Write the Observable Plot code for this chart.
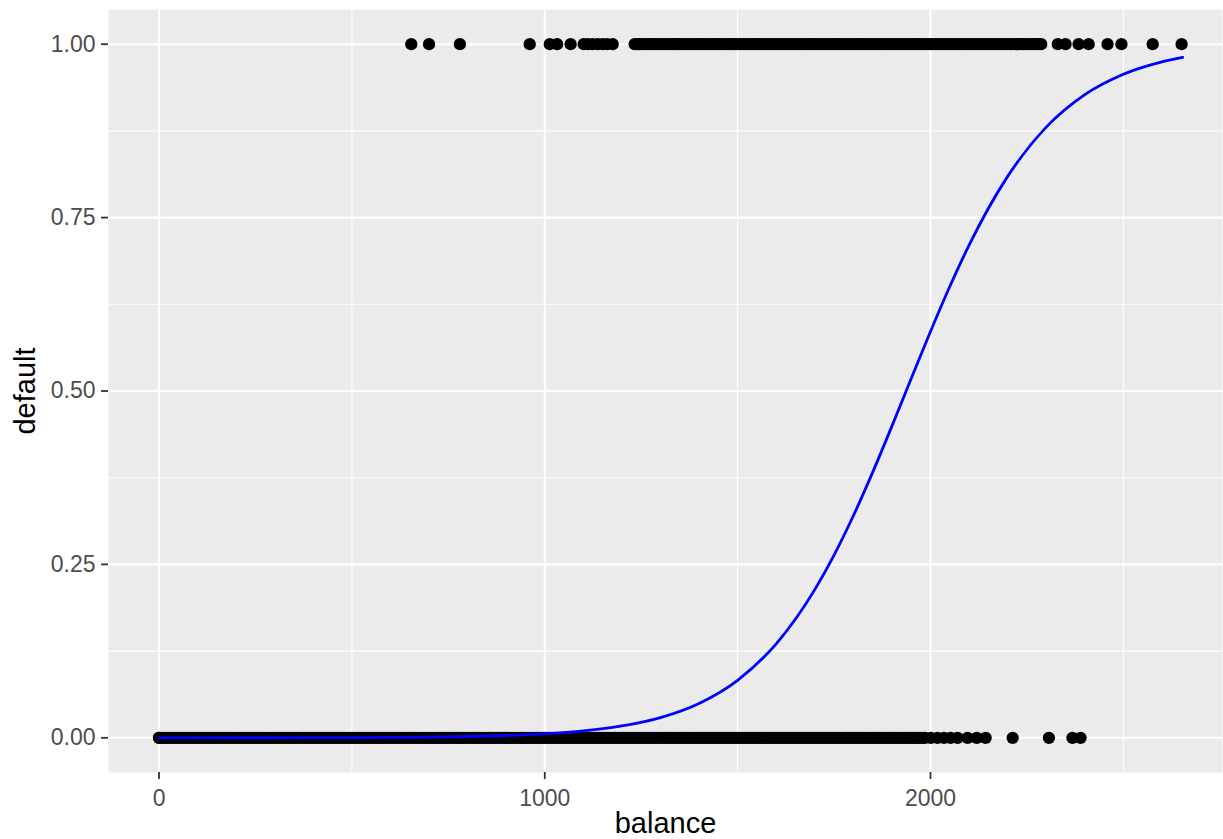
<!DOCTYPE html>
<html><head><meta charset="utf-8">
<script src="https://cdn.jsdelivr.net/npm/d3@7"></script>
<script src="https://cdn.jsdelivr.net/npm/@observablehq/plot@0.6"></script>
<style>body{margin:0;background:#fff;} svg{display:block}</style>
</head><body><div id="chart"></div>
<script>
// balance values of customers who did not default (default = 0)
const nonDefaultBalance = [0, 0, 6, 13, 20, 27, 34, 41, 48, 55, 62, 69, 76, 84, 90, 97, 104, 111, 118, 126, 133, 140, 146, 153, 160, 168, 175, 182, 188, 195, 202, 210, 217, 224, 230, 237, 244, 252, 259, 266, 272, 279, 286, 294, 301, 308, 314, 321, 328, 336, 343, 350, 356, 363, 370, 378, 385, 392, 398, 405, 412, 420, 427, 434, 440, 447, 454, 462, 469, 476, 482, 489, 496, 504, 511, 518, 524, 531, 538, 546, 553, 560, 566, 573, 580, 588, 595, 602, 608, 615, 622, 630, 637, 644, 650, 657, 664, 672, 679, 686, 692, 699, 706, 714, 721, 728, 734, 741, 748, 756, 763, 770, 776, 783, 790, 798, 805, 812, 818, 825, 832, 840, 847, 854, 860, 867, 874, 882, 889, 896, 902, 909, 916, 924, 931, 938, 944, 951, 958, 966, 973, 980, 986, 993, 1000, 1008, 1015, 1022, 1028, 1035, 1042, 1050, 1057, 1064, 1070, 1077, 1084, 1092, 1099, 1106, 1112, 1119, 1126, 1134, 1141, 1148, 1154, 1161, 1168, 1176, 1183, 1190, 1196, 1203, 1210, 1218, 1225, 1232, 1238, 1245, 1252, 1260, 1267, 1274, 1280, 1287, 1294, 1302, 1309, 1316, 1322, 1329, 1336, 1344, 1351, 1358, 1364, 1371, 1378, 1386, 1393, 1400, 1406, 1413, 1420, 1428, 1435, 1442, 1448, 1455, 1462, 1470, 1477, 1484, 1490, 1497, 1504, 1512, 1519, 1526, 1532, 1539, 1546, 1554, 1561, 1568, 1574, 1581, 1588, 1596, 1603, 1610, 1616, 1623, 1630, 1638, 1645, 1652, 1658, 1665, 1672, 1680, 1687, 1694, 1700, 1707, 1714, 1722, 1729, 1736, 1742, 1749, 1756, 1764, 1771, 1778, 1784, 1791, 1798, 1806, 1813, 1820, 1826, 1833, 1840, 1848, 1855, 1862, 1868, 1875, 1882, 1890, 1897, 1904, 1910, 1917, 1924, 1932, 1939, 1946, 1952, 1959, 1966, 1972, 1979, 1986, 2001, 2018, 2035, 2052, 2070, 2096, 2120, 2143, 2213, 2307, 2368, 2389];
// balance values of customers who defaulted (default = 1)
const defaultBalance = [654, 700, 780, 961, 1013, 1032, 1067, 1101, 1112, 1124, 1137, 1150, 1162, 1176, 1233, 1240, 1246, 1254, 1261, 1268, 1274, 1281, 1288, 1295, 1302, 1309, 1315, 1323, 1330, 1337, 1343, 1350, 1357, 1364, 1371, 1378, 1384, 1392, 1399, 1406, 1412, 1419, 1426, 1433, 1440, 1447, 1453, 1461, 1468, 1475, 1481, 1488, 1495, 1502, 1509, 1516, 1522, 1530, 1537, 1544, 1550, 1557, 1564, 1571, 1578, 1585, 1591, 1599, 1606, 1613, 1619, 1626, 1633, 1640, 1647, 1654, 1660, 1668, 1675, 1682, 1688, 1695, 1702, 1709, 1716, 1723, 1729, 1737, 1744, 1751, 1757, 1764, 1771, 1778, 1785, 1792, 1798, 1806, 1813, 1820, 1826, 1833, 1840, 1847, 1854, 1861, 1867, 1875, 1882, 1889, 1895, 1902, 1909, 1916, 1923, 1930, 1936, 1944, 1951, 1958, 1964, 1971, 1978, 1985, 1992, 1999, 2005, 2013, 2020, 2027, 2033, 2040, 2047, 2054, 2061, 2068, 2074, 2082, 2089, 2096, 2102, 2109, 2116, 2123, 2130, 2137, 2143, 2151, 2158, 2165, 2171, 2178, 2185, 2192, 2199, 2206, 2212, 2220, 2227, 2234, 2240, 2247, 2254, 2261, 2268, 2274, 2280, 2287, 2330, 2350, 2384, 2410, 2459, 2495, 2576, 2651];
// fitted curve
const curveBalance = [0, 100, 200, 300, 400, 500, 600, 700, 800, 900, 1000, 1100, 1200, 1300, 1400, 1500, 1600, 1700, 1750, 1800, 1850, 1900, 1950, 2000, 2050, 2100, 2200, 2300, 2400, 2500, 2600, 2654];
const curveProb = [0.00002, 0.00004, 0.00007, 0.00012, 0.00021, 0.00037, 0.00064, 0.00111, 0.00192, 0.00333, 0.00576, 0.00992, 0.01708, 0.02924, 0.04962, 0.08296, 0.13552, 0.21365, 0.2634, 0.32013, 0.3827, 0.44935, 0.5179, 0.5858, 0.6506, 0.7102, 0.8094, 0.8804, 0.9273, 0.9567, 0.9746, 0.9810];
const xTicks = [0, 1000, 2000];
const xMinor = [500, 1500, 2500];
const yTicks = [0, 0.25, 0.5, 0.75, 1];
const yMinor = [0.125, 0.375, 0.625, 0.875];
const xTitle = "balance";
const yTitle = "default";

const points = [
  ...nonDefaultBalance.map(b => ({balance: b, default: 0})),
  ...defaultBalance.map(b => ({balance: b, default: 1}))
];
const curve = curveBalance.map((b, i) => ({balance: b, p: curveProb[i]}));

const chart = Plot.plot({
  width: 1223, height: 839,
  marginLeft: 108, marginRight: 1, marginTop: 9, marginBottom: 67,
  style: {fontFamily: "'Liberation Sans', Arial, sans-serif", background: "white", overflow: "visible"},
  x: {domain: [-131, 2757]},
  y: {domain: [-0.05, 1.05]},
  marks: [
    Plot.frame({fill: "#EBEBEB", stroke: null}),
    Plot.ruleX(xMinor, {stroke: "white", strokeWidth: 1.05}),
    Plot.ruleY(yMinor, {stroke: "white", strokeWidth: 1.05}),
    Plot.ruleX(xTicks, {stroke: "white", strokeWidth: 2.1}),
    Plot.ruleY(yTicks, {stroke: "white", strokeWidth: 2.1}),
    Plot.axisX(xTicks, {tickSize: 7, tickPadding: 10, fontSize: 23, label: null, stroke: "#333333", strokeWidth: 1.8, fill: "#4D4D4D", tickFormat: d => String(d)}),
    Plot.axisY(yTicks, {tickSize: 7, tickPadding: 6, fontSize: 23, label: null, stroke: "#333333", strokeWidth: 1.8, fill: "#4D4D4D", tickFormat: d => d.toFixed(2)}),
    Plot.dot(points, {x: "balance", y: "default", r: 6.15, fill: "black", stroke: null}),
    Plot.line(curve, {x: "balance", y: "p", stroke: "blue", strokeWidth: 2.8, curve: "monotone-x"}),
    Plot.text([xTitle], {frameAnchor: "bottom", dy: 60, fontSize: 29, fill: "black", text: d => d}),
    Plot.text([yTitle], {frameAnchor: "left", dx: -83, rotate: -90, textAnchor: "middle", fontSize: 29, fill: "black", text: d => d})
  ]
});
document.getElementById("chart").appendChild(chart);
</script>
</body></html>
